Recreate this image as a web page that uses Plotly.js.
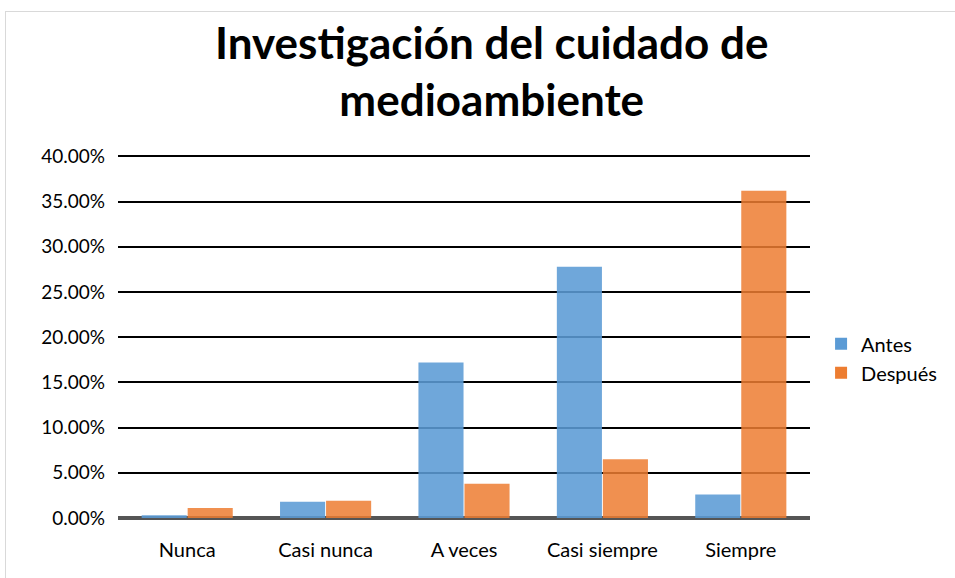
<!DOCTYPE html>
<html><head><meta charset="utf-8">
<script src="https://cdn.plot.ly/plotly-3.0.1.min.js"></script>
<style>
html,body{margin:0;padding:0;background:#fff;overflow:hidden}
#wrap{position:absolute;left:5px;top:11px;width:949px;height:566px;border-left:1px solid #d9d9d9;border-top:1px solid #d9d9d9;}
#chart{width:949px;height:566px}
</style></head>
<body><div id="wrap"><div id="chart"></div></div>
<script>
const categories = ["Nunca", "Casi nunca", "A veces", "Casi siempre", "Siempre"];
const antes = [0.003, 0.018, 0.172, 0.278, 0.026];
const despues = [0.011, 0.019, 0.038, 0.065, 0.362];
const seriesNames = ["Antes", "Después"];
const tickVals = [0, 0.05, 0.10, 0.15, 0.20, 0.25, 0.30, 0.35, 0.40];
const titleText = "<b>Investigación del cuidado de<br>medioambiente</b>";

const font = "Lato, 'Open Sans', sans-serif";
const traces = [
  {type:'bar', name:seriesNames[0], x:categories, y:antes, marker:{color:'#5b9bd5', opacity:0.88, line:{width:0}}},
  {type:'bar', name:seriesNames[1], x:categories, y:despues, marker:{color:'#ed7d31', opacity:0.85, line:{width:0}}}
];
const layout = {
  width:949, height:566,
  margin:{l:112, r:145, t:143, b:60, autoexpand:false},
  paper_bgcolor:'#fff', plot_bgcolor:'rgba(0,0,0,0)',
  annotations:[{text:titleText, xref:'paper', yref:'paper', x:0.54, y:1.233, xanchor:'center', yanchor:'middle',
    showarrow:false, font:{family:font, size:44, color:'#000'}}],
  barmode:'group', bargap:0.335, bargroupgap:0.02,
  xaxis:{tickfont:{family:font, size:20, color:'#000'}, showline:false, ticks:'', showgrid:false, ticklabelstandoff:18},
  yaxis:{range:[0,0.4015], tickvals:tickVals, tickformat:'.2%', tickfont:{family:font, size:19, color:'#000'},
         showgrid:true, gridcolor:'#000', gridwidth:2, zeroline:true, zerolinecolor:'#555', zerolinewidth:4,
         ticks:'', showline:false, layer:'above traces', ticklabelstandoff:12},
  legend:{x:1.016, xanchor:'left', y:0.44, yanchor:'middle', font:{family:font, size:20, color:'#000'},
          itemwidth:20, tracegroupgap:4},
  showlegend:true
};
Plotly.newPlot('chart', traces, layout, {displayModeBar:false, staticPlot:true});
</script></body></html>
